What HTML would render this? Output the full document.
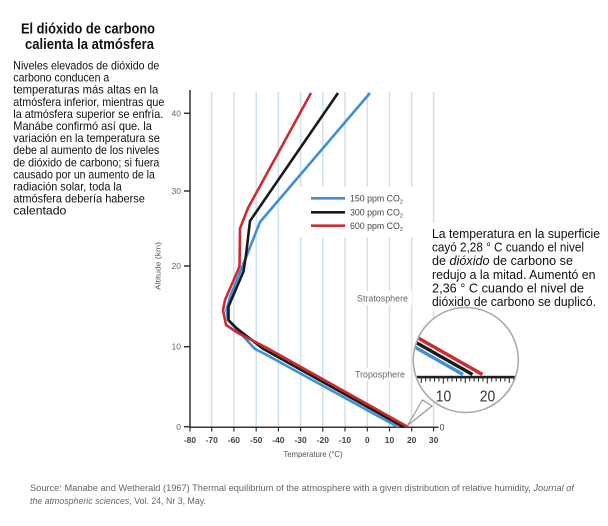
<!DOCTYPE html>
<html>
<head>
<meta charset="utf-8">
<style>
  html,body{margin:0;padding:0;background:#fff;}
  svg{display:block;}
</style>
</head>
<body>
<svg width="608" height="526" viewBox="0 0 608 526" xmlns="http://www.w3.org/2000/svg">
  <rect width="608" height="526" fill="#fff"/>

  <!-- Title -->
  <g font-family="'Liberation Sans', Arial, sans-serif" font-weight="bold" font-size="14.5" fill="#111">
    <text x="21" y="33.5" textLength="134" lengthAdjust="spacingAndGlyphs">El dióxido de carbono</text>
    <text x="25" y="49" textLength="129" lengthAdjust="spacingAndGlyphs">calienta la atmósfera</text>
  </g>

  <!-- Left paragraph -->
  <g font-family="'Liberation Sans', Arial, sans-serif" font-size="12" fill="#111">
    <text x="13.3" y="69.5" textLength="146" lengthAdjust="spacingAndGlyphs">Niveles elevados de dióxido de</text>
    <text x="13.3" y="81.6" textLength="96" lengthAdjust="spacingAndGlyphs">carbono conducen a</text>
    <text x="13.3" y="93.7" textLength="145" lengthAdjust="spacingAndGlyphs">temperaturas más altas en la</text>
    <text x="13.3" y="105.8" textLength="151" lengthAdjust="spacingAndGlyphs">atmósfera inferior, mientras que</text>
    <text x="13.3" y="117.9" textLength="150" lengthAdjust="spacingAndGlyphs">la atmósfera superior se enfría.</text>
    <text x="13.3" y="130.0" textLength="138.5" lengthAdjust="spacingAndGlyphs">Manábe confirmó así que. la</text>
    <text x="13.3" y="142.1" textLength="146.5" lengthAdjust="spacingAndGlyphs">variación en la temperatura se</text>
    <text x="13.3" y="154.2" textLength="146" lengthAdjust="spacingAndGlyphs">debe al aumento de los niveles</text>
    <text x="13.3" y="166.3" textLength="146" lengthAdjust="spacingAndGlyphs">de dióxido de carbono; si fuera</text>
    <text x="13.3" y="178.4" textLength="141.5" lengthAdjust="spacingAndGlyphs">causado por un aumento de la</text>
    <text x="13.3" y="190.5" textLength="108.5" lengthAdjust="spacingAndGlyphs">radiación solar, toda la</text>
    <text x="13.3" y="202.6" textLength="131.5" lengthAdjust="spacingAndGlyphs">atmósfera debería haberse</text>
    <text x="13.3" y="214.7" textLength="53" lengthAdjust="spacingAndGlyphs">calentado</text>
  </g>

  <!-- Gridlines -->
  <g stroke="#cfe1ef" stroke-width="1.5">
    <line x1="211.7" y1="92" x2="211.7" y2="427"/>
    <line x1="233.9" y1="92" x2="233.9" y2="427"/>
    <line x1="256.2" y1="92" x2="256.2" y2="427"/>
    <line x1="278.4" y1="92" x2="278.4" y2="427"/>
    <line x1="300.6" y1="92" x2="300.6" y2="427"/>
    <line x1="322.8" y1="92" x2="322.8" y2="427"/>
    <line x1="345.0" y1="92" x2="345.0" y2="427"/>
    <line x1="367.3" y1="92" x2="367.3" y2="427"/>
    <line x1="389.5" y1="92" x2="389.5" y2="427"/>
    <line x1="411.7" y1="92" x2="411.7" y2="427"/>
    <line x1="433.6" y1="92" x2="433.6" y2="427"/>
  </g>

  <!-- white knock-outs -->
  <rect x="298" y="187" width="121" height="50" fill="#fff"/>
  <rect x="353" y="291" width="59" height="14" fill="#fff"/>
  <rect x="352" y="368" width="56" height="13" fill="#fff"/>
  <rect x="425" y="223" width="183" height="89" fill="#fff"/>

  <!-- Right paragraph -->
  <g font-family="'Liberation Sans', Arial, sans-serif" font-size="12.5" fill="#111">
    <text x="432" y="238" textLength="168" lengthAdjust="spacingAndGlyphs">La temperatura en la superficie</text>
    <text x="432" y="251.6" textLength="152" lengthAdjust="spacingAndGlyphs">cayó 2,28 ° C cuando el nivel</text>
    <text x="432" y="265.2" textLength="141" lengthAdjust="spacingAndGlyphs">de <tspan font-style="italic">dióxido</tspan> de carbono se</text>
    <text x="432" y="278.8" textLength="163.5" lengthAdjust="spacingAndGlyphs">redujo a la mitad. Aumentó en</text>
    <text x="432" y="292.4" textLength="152" lengthAdjust="spacingAndGlyphs">2,36 ° C cuando el nivel de</text>
    <text x="432" y="306" textLength="164" lengthAdjust="spacingAndGlyphs">dióxido de carbono se duplicó.</text>
  </g>

  <!-- Axes -->
  <g stroke="#333" stroke-width="1.5" fill="none">
    <line x1="190" y1="90" x2="190" y2="428"/>
    <line x1="189.3" y1="427.3" x2="434" y2="427.3"/>
    <line x1="434" y1="427.3" x2="438.5" y2="427.3"/>
    <line x1="184" y1="426.7" x2="190" y2="426.7"/>
    <line x1="184" y1="346.7" x2="190" y2="346.7"/>
    <line x1="184" y1="266" x2="190" y2="266"/>
    <line x1="184" y1="191" x2="190" y2="191"/>
    <line x1="184" y1="113.3" x2="190" y2="113.3"/>
  </g>
  <g stroke="#333" stroke-width="1.2">
    <line x1="190" y1="427" x2="190" y2="431.5"/>
    <line x1="211.7" y1="427" x2="211.7" y2="431.5"/>
    <line x1="233.9" y1="427" x2="233.9" y2="431.5"/>
    <line x1="256.2" y1="427" x2="256.2" y2="431.5"/>
    <line x1="278.4" y1="427" x2="278.4" y2="431.5"/>
    <line x1="300.6" y1="427" x2="300.6" y2="431.5"/>
    <line x1="322.8" y1="427" x2="322.8" y2="431.5"/>
    <line x1="345.0" y1="427" x2="345.0" y2="431.5"/>
    <line x1="367.3" y1="427" x2="367.3" y2="431.5"/>
    <line x1="389.5" y1="427" x2="389.5" y2="431.5"/>
    <line x1="411.7" y1="427" x2="411.7" y2="431.5"/>
    <line x1="433.6" y1="427" x2="433.6" y2="431.5"/>
  </g>

  <!-- tick labels -->
  <g font-family="'Liberation Sans Narrow', 'Liberation Sans', Arial, sans-serif" font-size="8.5" font-weight="bold" fill="#444" text-anchor="middle">
    <text x="190" y="443">-80</text>
    <text x="211.7" y="443">-70</text>
    <text x="233.9" y="443">-60</text>
    <text x="256.2" y="443">-50</text>
    <text x="278.4" y="443">-40</text>
    <text x="300.6" y="443">-30</text>
    <text x="322.8" y="443">-20</text>
    <text x="345.0" y="443">-10</text>
    <text x="367.3" y="443">0</text>
    <text x="389.5" y="443">10</text>
    <text x="411.7" y="443">20</text>
    <text x="433.6" y="443">30</text>
  </g>
  <g font-family="'Liberation Sans Narrow', 'Liberation Sans', Arial, sans-serif" font-size="8.5" fill="#666" text-anchor="end">
    <text x="181" y="430">0</text>
    <text x="181" y="349.7">10</text>
    <text x="181" y="269">20</text>
    <text x="181" y="194">30</text>
    <text x="181" y="116.3">40</text>
  </g>
  <text x="439.5" y="430.5" font-family="'Liberation Sans Narrow', 'Liberation Sans', Arial, sans-serif" font-size="9" fill="#444">0</text>

  <!-- axis titles -->
  <text x="313" y="457" text-anchor="middle" textLength="59" lengthAdjust="spacingAndGlyphs" font-family="'Liberation Sans Narrow', 'Liberation Sans', Arial, sans-serif" font-size="8" fill="#555">Temperature (°C)</text>
  <text transform="translate(160.5,266) rotate(-90)" text-anchor="middle" textLength="48" lengthAdjust="spacingAndGlyphs" font-family="'Liberation Sans Narrow', 'Liberation Sans', Arial, sans-serif" font-size="7.5" fill="#555">Altitude (km)</text>

  <!-- layer labels -->
  <text x="382.5" y="301.5" text-anchor="middle" textLength="51" lengthAdjust="spacingAndGlyphs" font-family="'Liberation Sans Narrow', 'Liberation Sans', Arial, sans-serif" font-size="9.5" fill="#666">Stratosphere</text>
  <text x="380" y="377.5" text-anchor="middle" textLength="50" lengthAdjust="spacingAndGlyphs" font-family="'Liberation Sans Narrow', 'Liberation Sans', Arial, sans-serif" font-size="9.5" fill="#666">Troposphere</text>

  <!-- Legend -->
  <g stroke-width="2.6">
    <line x1="311" y1="198.3" x2="345" y2="198.3" stroke="#3f8fd8"/>
    <line x1="311" y1="212.3" x2="345" y2="212.3" stroke="#1a1a1a"/>
    <line x1="311" y1="225.7" x2="345" y2="225.7" stroke="#d02a30"/>
  </g>
  <g font-family="'Liberation Sans Narrow', 'Liberation Sans', Arial, sans-serif" font-size="8.8" fill="#444">
    <text x="350" y="201.5">150 ppm CO<tspan font-size="5.5" dy="2">2</tspan></text>
    <text x="350" y="215.5">300 ppm CO<tspan font-size="5.5" dy="2">2</tspan></text>
    <text x="350" y="229">600 ppm CO<tspan font-size="5.5" dy="2">2</tspan></text>
  </g>

  <!-- Curves -->
  <g fill="none" stroke-width="2.6" stroke-linejoin="round" stroke-linecap="butt">
    <polyline stroke="#3f8fd8" points="370,93 260,222 243,265 230,297 226.5,310 228,320 255,349 265,354 398,427"/>
    <polyline stroke="#1a1a1a" points="338,93 250,221 246,255 243.5,271.5 228.5,306.5 228.5,320 236.7,328.3 263.3,349 268,351.5 403.5,427"/>
    <polyline stroke="#d02a30" points="311,93 248,208 240,228.5 239.5,266.5 235,277 225,300 223,310 226,325 238,333 268,348.5 408,427"/>
  </g>

  <!-- Callout -->
  <defs>
    <clipPath id="cc"><circle cx="465.8" cy="360" r="51.7"/></clipPath>
  </defs>
  <polygon points="422.5,400 407.5,425.5 432,406" fill="#fff" stroke="#999" stroke-width="1.2" stroke-linejoin="miter"/>
  <circle cx="465.8" cy="360" r="52.5" fill="#fff" stroke="#aaa" stroke-width="1.6"/>
  <g clip-path="url(#cc)">
    <g stroke-width="3.4" fill="none">
      <line x1="383" y1="329.1" x2="463" y2="374.5" stroke="#3f8fd8"/>
      <line x1="392.5" y1="329.1" x2="472.5" y2="374.5" stroke="#1a1a1a"/>
      <line x1="402.5" y1="329.1" x2="482.5" y2="374.5" stroke="#d02a30"/>
    </g>
    <rect x="410" y="375.8" width="112" height="2.6" fill="#222"/>
    <g stroke="#222" stroke-width="1">
      <line x1="412.5" y1="378" x2="412.5" y2="381.5"/>
      <line x1="416.9" y1="378" x2="416.9" y2="381.5"/>
      <line x1="421.3" y1="378" x2="421.3" y2="383"/>
      <line x1="425.7" y1="378" x2="425.7" y2="381.5"/>
      <line x1="430.1" y1="378" x2="430.1" y2="381.5"/>
      <line x1="434.5" y1="378" x2="434.5" y2="381.5"/>
      <line x1="438.9" y1="378" x2="438.9" y2="381.5"/>
      <line x1="443.3" y1="378" x2="443.3" y2="383.5"/>
      <line x1="447.7" y1="378" x2="447.7" y2="381.5"/>
      <line x1="452.1" y1="378" x2="452.1" y2="381.5"/>
      <line x1="456.5" y1="378" x2="456.5" y2="381.5"/>
      <line x1="460.9" y1="378" x2="460.9" y2="381.5"/>
      <line x1="465.3" y1="378" x2="465.3" y2="383"/>
      <line x1="469.7" y1="378" x2="469.7" y2="381.5"/>
      <line x1="474.1" y1="378" x2="474.1" y2="381.5"/>
      <line x1="478.5" y1="378" x2="478.5" y2="381.5"/>
      <line x1="482.9" y1="378" x2="482.9" y2="381.5"/>
      <line x1="487.3" y1="378" x2="487.3" y2="383.5"/>
      <line x1="491.7" y1="378" x2="491.7" y2="381.5"/>
      <line x1="496.1" y1="378" x2="496.1" y2="381.5"/>
      <line x1="500.5" y1="378" x2="500.5" y2="381.5"/>
      <line x1="504.9" y1="378" x2="504.9" y2="381.5"/>
      <line x1="509.3" y1="378" x2="509.3" y2="383"/>
      <line x1="513.7" y1="378" x2="513.7" y2="381.5"/>
      <line x1="518.1" y1="378" x2="518.1" y2="381.5"/>
    </g>
    <g font-family="'Liberation Sans', Arial, sans-serif" font-size="16" fill="#333" text-anchor="middle">
      <text x="443.5" y="401.5" textLength="15.5" lengthAdjust="spacingAndGlyphs">10</text>
      <text x="487.5" y="401.5" textLength="15.5" lengthAdjust="spacingAndGlyphs">20</text>
    </g>
  </g>

  <!-- Source -->
  <g font-family="'Liberation Sans Narrow', 'Liberation Sans', Arial, sans-serif" font-size="9" fill="#666">
    <text x="30" y="491" textLength="544" lengthAdjust="spacingAndGlyphs">Source: Manabe and Wetherald (1967) Thermal equilibrium of the atmosphere with a given distribution of relative humidity, <tspan font-style="italic">Journal of</tspan></text>
    <text x="30" y="504" textLength="176" lengthAdjust="spacingAndGlyphs"><tspan font-style="italic">the atmospheric sciences</tspan>, Vol. 24, Nr 3, May.</text>
  </g>
</svg>
</body>
</html>
